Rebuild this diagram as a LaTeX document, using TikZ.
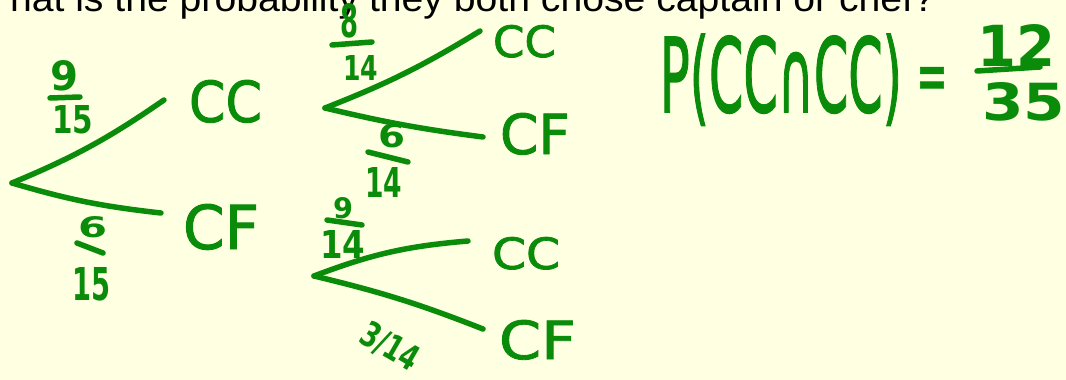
\documentclass[tikz,border=0pt]{standalone}
\usepackage{fontspec}
\usepackage{graphicx}
\setmainfont{DejaVu Sans}
\newfontfamily\topfont{Liberation Sans}
\newfontfamily\penfont[FakeBold=1.6]{DejaVu Sans}
\definecolor{bg}{RGB}{255,255,226}
\definecolor{pen}{RGB}{10,140,10}
\newcommand{\hw}[3]{\resizebox{#1pt}{#2pt}{#3}}
\begin{document}
\begin{tikzpicture}[x=1pt,y=-1pt,
  every node/.style={inner sep=0pt,outer sep=0pt},
  ink/.style={draw=pen,line width=5.5pt,line cap=round,line join=round},
  hand/.style={text=pen,anchor=base west,font=\penfont},
  dig/.style={text=pen,anchor=base west,font=\bfseries}]
\useasboundingbox (0,0) rectangle (1066,380);
\fill[bg] (0,0) rectangle (1066,380);
\clip (0,0) rectangle (1066,380);

% partly cut question at the top
\node[anchor=base west,text=black] (title) at (10,12)
  {\resizebox{925pt}{27pt}{\topfont hat is the probability they both chose captain or chef?}};

% ---------- first stage ----------
\coordinate (r0) at (12,183);
\coordinate (e1) at (164,100);
\coordinate (e2) at (161,213);
\node[hand] (cc1) at (189,122) {\hw{73}{42}{CC}};
\node[hand] (cf1) at (183,249) {\hw{76}{45}{CF}};
\draw[ink] (r0) to[bend right=6] (e1);
\draw[ink] (r0) to[bend right=5] (e2);
% 9/15
\node[dig] (a9) at (50,90) {\hw{28}{30}{9}};
\node[dig] (a15) at (52,133) {\hw{41}{28}{15}};
\draw[ink] (50,98) -- (80,97);
% 6/15
\node[dig] (b6) at (78,237) {\hw{29}{21}{6}};
\node[dig] (b15) at (72,300) {\hw{38}{33}{15}};
\draw[ink] (77,243) -- (103,253);

% ---------- second stage, upper ----------
\coordinate (r1) at (325,108);
\coordinate (e3) at (480,31);
\coordinate (e4) at (483,137);
\node[hand] (cc2) at (493,57) {\hw{63}{32}{CC}};
\node[hand] (cf2) at (500,154) {\hw{70}{41}{CF}};
\draw[ink] (r1) to[bend right=5] (e3);
\draw[ink] (r1) to[bend right=3] (e4);
% 8/14
\node[dig] (c8) at (340,37) {\hw{18}{34}{8}};
\node[dig] (c14) at (343,80) {\hw{35}{25}{14}};
\draw[ink] (332,45) -- (372,42);
% 6/14
\node[dig] (d6) at (378,147) {\hw{27}{24}{6}};
\node[dig] (d14) at (365,197) {\hw{37}{30}{14}};
\draw[ink] (368,152) -- (408,162);

% ---------- second stage, lower ----------
\coordinate (r2) at (314,276);
\coordinate (e5) at (468,241);
\coordinate (e6) at (483,329);
\node[hand] (cc3) at (492,269) {\hw{68}{32}{CC}};
\node[hand] (cf3) at (499,359) {\hw{77}{39}{CF}};
\draw[ink] (r2) to[bend left=8] (e5);
\draw[ink] (r2) to[bend left=4] (e6);
% 9/14
\node[dig] (f9) at (333,218) {\hw{20}{21}{9}};
\node[dig] (f14) at (320,258) {\hw{45}{28}{14}};
\draw[ink] (327,220) -- (362,225);
% 3/14
\node[dig,anchor=center,rotate=-30] (g314) at (390,347) {\hw{62}{26}{3/14}};

% ---------- result ----------
\node[hand] (pcc) at (660,112) {\hw{242}{78}{P(CC∩CC)}};
\node[text=pen,font=\penfont] (eq) at (932,84) {\hw{31}{33}{=}};
\node[dig] (n12) at (977,66) {\hw{78}{42}{12}};
\node[dig] (n35) at (982,120) {\hw{83}{38}{35}};
\draw[ink] (977,71) -- (1040,67);
\end{tikzpicture}
\end{document}
